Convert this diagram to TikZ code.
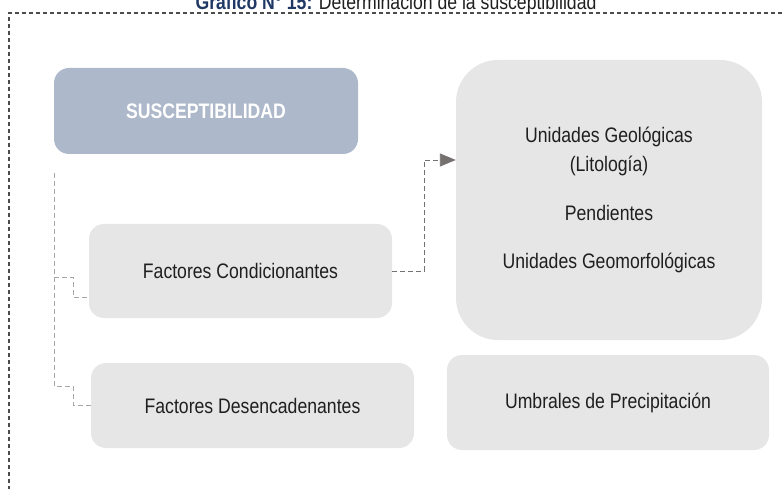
\documentclass[tikz,border=0pt]{standalone}
\usepackage{fontspec}
\setmainfont[FakeStretch=0.84]{Liberation Sans}
\usepackage{tikz}
\usetikzlibrary{arrows.meta,shapes}
\definecolor{boxgray}{HTML}{E6E6E6}
\definecolor{suscblue}{HTML}{ADB8CA}
\definecolor{titleblue}{HTML}{1F3864}
\definecolor{linkgray}{HTML}{A6A6A6}
\definecolor{arrowgray}{HTML}{767171}
\tikzstyle{box}=[rectangle,rounded corners=15pt,fill=boxgray,inner sep=0pt,text=black!88,font=\fontsize{21}{29}\selectfont]
\tikzstyle{main box} = [box, fill=suscblue, text=white, font=\fontsize{21}{29}\selectfont\bfseries]
\tikzstyle{link} = [draw,linkgray,line width=0.9pt,dash pattern=on 5pt off 3pt]
\tikzstyle{flow} = [link,arrowgray,-{Triangle[length=16pt,width=13pt]}]
\tikzstyle{frame} = [draw,black!70,line width=1.1pt,dash pattern=on 4pt off 3pt]

\begin{document}
\begin{tikzpicture}[x=1pt,y=-1pt]
    \useasboundingbox (0,0) rectangle (782,489);
    % First we draw the frame and the title
    \draw[frame] (782,13) -- (9,13) -- (9,489);
    \node[anchor=base,inner sep=0pt,text=black!88,font=\fontsize{21}{29}\selectfont] (title) at (396,10)
        {{\color{titleblue}\bfseries Gráfico N° 15:} Determinación de la susceptibilidad};

    % Then the boxes
    \node[main box,minimum width=304pt,minimum height=86pt] (susc) at (206,111) {SUSCEPTIBILIDAD};
    \foreach \pos/\name/\w/\h/\txt in {{(240.5,271)/cond/303/94/Factores Condicionantes}, {(252.5,405.5)/desc/323/85/Factores Desencadenantes}, {(608,402.5)/umbral/322/95/Umbrales de Precipitación}}
        \node[box,minimum width=\w pt,minimum height=\h pt] (\name) at \pos {\txt};
    \node[box,rounded corners=42pt,align=center,minimum width=306pt,minimum height=280pt] (geo) at (609,200)
        {Unidades Geológicas\\(Litología)\\[20pt]Pendientes\\[19pt]Unidades Geomorfológicas};

    % Connect boxes with dashed links
    \coordinate (trunk) at (54,173);
    \path[link] (trunk) |- ++(19,104) |- ([yshift=-26pt]cond.west);
    \path[link] (trunk) |- ++(19,213) |- (desc.west);
    \path[flow] (cond.east) -- ++(32,0) |- ([yshift=40pt]geo.west);
\end{tikzpicture}
\end{document}
